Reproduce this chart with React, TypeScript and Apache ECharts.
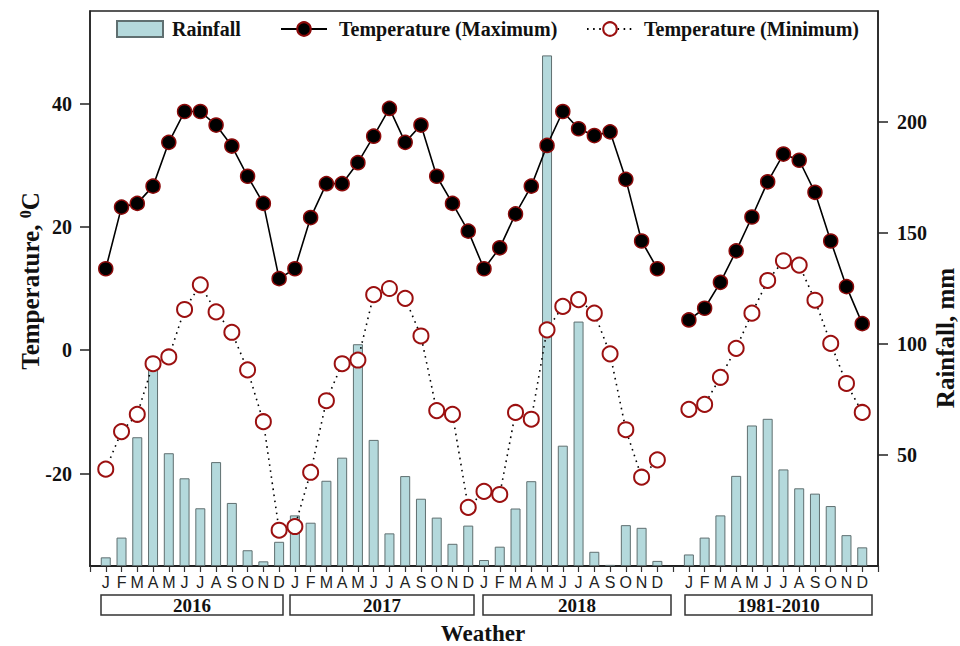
import React, { useEffect, useRef } from "react";
import * as echarts from "echarts";

const months = ["J", "F", "M", "A", "M", "J", "J", "A", "S", "O", "N", "D"];
const periods = ["2016", "2017", "2018", "1981-2010"];

const max2016 = [13.2, 23.2, 23.8, 26.6, 33.7, 38.7, 38.7, 36.5, 33.1, 28.2, 23.8, 11.6];
const max2017 = [13.2, 21.5, 27.0, 27.0, 30.4, 34.7, 39.2, 33.7, 36.5, 28.2, 23.8, 19.3];
const max2018 = [13.2, 16.6, 22.1, 26.6, 33.2, 38.7, 35.9, 34.8, 35.4, 27.7, 17.7, 13.2];
const max1981 = [4.9, 6.8, 11.0, 16.1, 21.6, 27.3, 31.8, 30.8, 25.6, 17.7, 10.3, 4.3];

const min2016 = [-19.3, -13.2, -10.4, -2.2, -1.1, 6.6, 10.6, 6.2, 2.9, -3.2, -11.6, -29.2];
const min2017 = [-28.6, -19.8, -8.2, -2.2, -1.6, 9.0, 10.0, 8.4, 2.3, -9.8, -10.4, -25.5];
const min2018 = [-22.9, -23.4, -10.1, -11.2, 3.3, 7.1, 8.2, 6.0, -0.6, -12.9, -20.6, -17.8];
const min1981 = [-9.6, -8.8, -4.4, 0.3, 6.0, 11.3, 14.5, 13.8, 8.1, 1.1, -5.4, -10.1];

const rain2016 = [3.9, 12.8, 58.0, 90.0, 50.8, 39.5, 26.0, 46.8, 28.4, 7.1, 2.1, 10.9];
const rain2017 = [22.8, 19.5, 38.4, 48.8, 99.9, 56.8, 14.7, 40.5, 30.3, 21.8, 10.0, 18.2];
const rain2018 = [2.7, 8.7, 25.9, 38.2, 230.0, 54.2, 110.1, 6.4, 0.5, 18.4, 17.2, 2.3];
const rain1981 = [5.2, 12.8, 22.8, 40.6, 63.3, 66.3, 43.5, 35.0, 32.6, 27.0, 13.9, 8.4];

const tempTicks = [-20, 0, 20, 40];
const rainTicks = [50, 100, 150, 200];

// layout of the period boxes under the axis: [left, right]
const boxSpans = [
  [101, 283],
  [290, 474],
  [483, 671],
  [685, 872],
];

const SERIF = "'Liberation Serif', 'Times New Roman', serif";
const SANS = "'Liberation Sans', Arial, sans-serif";

function joinPeriods<T>(a: T[], b: T[], c: T[], d: T[]): (T | null)[] {
  return [null, ...a, ...b, ...c, null, ...d, null];
}

export default function App() {
  const ref = useRef<HTMLDivElement>(null);

  useEffect(() => {
    if (!ref.current) return;
    const chart = echarts.init(ref.current, undefined, { renderer: "svg" });

    const categories = joinPeriods(months, months, months, months).map((m) => (m === null ? "" : m));
    const maxData = joinPeriods(max2016, max2017, max2018, max1981);
    const minData = joinPeriods(min2016, min2017, min2018, min1981);
    const rainData = joinPeriods(rain2016, rain2017, rain2018, rain1981);

    const legendText = {
      fontFamily: SERIF,
      fontWeight: "bold" as const,
      fontSize: 20,
      color: "#111",
    };

    const graphics: any[] = [];
    periods.forEach((p, i) => {
      const [l, r] = boxSpans[i];
      graphics.push({
        type: "rect",
        shape: { x: l, y: 595, width: r - l, height: 20 },
        style: { fill: "#fff", stroke: "#333", lineWidth: 1.5 },
      });
      graphics.push({
        type: "text",
        x: (l + r) / 2,
        y: 605.5,
        style: {
          text: p,
          align: "center",
          verticalAlign: "middle",
          fontFamily: SERIF,
          fontWeight: "bold",
          fontSize: 19,
          fill: "#111",
        },
      });
    });
    graphics.push({
      type: "text",
      x: 483,
      y: 633,
      style: {
        text: "Weather",
        align: "center",
        verticalAlign: "middle",
        fontFamily: SERIF,
        fontWeight: "bold",
        fontSize: 23,
        fill: "#111",
      },
    });
    graphics.push({
      type: "text",
      x: 30,
      y: 281,
      rotation: Math.PI / 2,
      style: {
        text: "{a|Temperature, }{s|0}{a|C}",
        align: "center",
        verticalAlign: "middle",
        fill: "#111",
        rich: {
          a: { fontFamily: SERIF, fontWeight: "bold", fontSize: 25, fill: "#111" },
          s: { fontFamily: SERIF, fontWeight: "bold", fontSize: 16, fill: "#111", verticalAlign: "top" },
        },
      },
    });
    graphics.push({
      type: "text",
      x: 945,
      y: 338,
      rotation: Math.PI / 2,
      style: {
        text: "Rainfall, mm",
        align: "center",
        verticalAlign: "middle",
        fontFamily: SERIF,
        fontWeight: "bold",
        fontSize: 25,
        fill: "#111",
      },
    });

    chart.setOption({
      animation: false,
      backgroundColor: "#fff",
      grid: {
        left: 90,
        right: 82,
        top: 11,
        bottom: 80,
        show: true,
        borderColor: "#222",
        borderWidth: 1.5,
        backgroundColor: "transparent",
      },
      legend: [
        {
          data: ["Rainfall"],
          left: 111,
          top: 14,
          icon: "rect",
          itemWidth: 46,
          itemHeight: 16,
          selectedMode: false,
          textStyle: { ...legendText, padding: [0, 0, 0, 4] },
        },
        {
          data: ["Temperature (Maximum)"],
          left: 275,
          top: 14,
          itemWidth: 46,
          itemHeight: 17,
          selectedMode: false,
          textStyle: { ...legendText, padding: [0, 0, 0, 7] },
        },
        {
          data: ["Temperature (Minimum)"],
          left: 581,
          top: 14,
          itemWidth: 46,
          itemHeight: 17,
          selectedMode: false,
          textStyle: { ...legendText, padding: [0, 0, 0, 6] },
        },
      ],
      xAxis: {
        type: "category",
        data: categories,
        boundaryGap: false,
        axisLine: { show: true, onZero: false, lineStyle: { color: "#222", width: 2 } },
        axisTick: { show: true, interval: 0, length: 6, lineStyle: { color: "#333", width: 1.2 } },
        axisLabel: {
          interval: 0,
          margin: 8,
          fontFamily: SANS,
          fontSize: 16,
          color: "#222",
        },
        splitLine: { show: false },
      },
      yAxis: [
        {
          type: "value",
          min: -35,
          max: 55,
          position: "left",
          axisLine: { show: true, lineStyle: { color: "#222", width: 1.5 } },
          axisTick: { show: true, length: 10, customValues: tempTicks, lineStyle: { color: "#222", width: 1.5 } },
          axisLabel: {
            customValues: tempTicks,
            margin: 18,
            fontFamily: SERIF,
            fontWeight: "bold",
            fontSize: 20,
            color: "#111",
          },
          splitLine: { show: false },
        },
        {
          type: "value",
          min: 0,
          max: 250,
          position: "right",
          axisLine: { show: true, lineStyle: { color: "#222", width: 1.5 } },
          axisTick: { show: true, length: 10, customValues: rainTicks, lineStyle: { color: "#222", width: 1.5 } },
          axisLabel: {
            customValues: rainTicks,
            margin: 19,
            fontFamily: SERIF,
            fontWeight: "bold",
            fontSize: 20,
            color: "#111",
          },
          splitLine: { show: false },
        },
      ],
      series: [
        {
          name: "Rainfall",
          type: "bar",
          yAxisIndex: 1,
          data: rainData,
          barWidth: 10,
          itemStyle: { color: "#b4d9dc", borderColor: "#5f6f70", borderWidth: 1 },
          z: 1,
        },
        {
          name: "Temperature (Maximum)",
          type: "line",
          yAxisIndex: 0,
          data: maxData,
          connectNulls: false,
          symbol: "circle",
          symbolSize: 14,
          lineStyle: { color: "#000", width: 1.6 },
          itemStyle: { color: "#000", borderColor: "#8b0a0a", borderWidth: 1.5 },
          z: 3,
        },
        {
          name: "Temperature (Minimum)",
          type: "line",
          yAxisIndex: 0,
          data: minData,
          connectNulls: false,
          symbol: "circle",
          symbolSize: 15,
          lineStyle: { color: "#000", width: 1.6, type: [1.6, 4.5] },
          itemStyle: { color: "#fff", borderColor: "#9b1010", borderWidth: 2 },
          z: 2,
        },
      ],
      graphic: graphics,
    });

    return () => chart.dispose();
  }, []);

  return (
    <div
      ref={ref}
      style={{ position: "fixed", left: 0, top: 0, width: 960, height: 646, background: "#fff" }}
    />
  );
}
